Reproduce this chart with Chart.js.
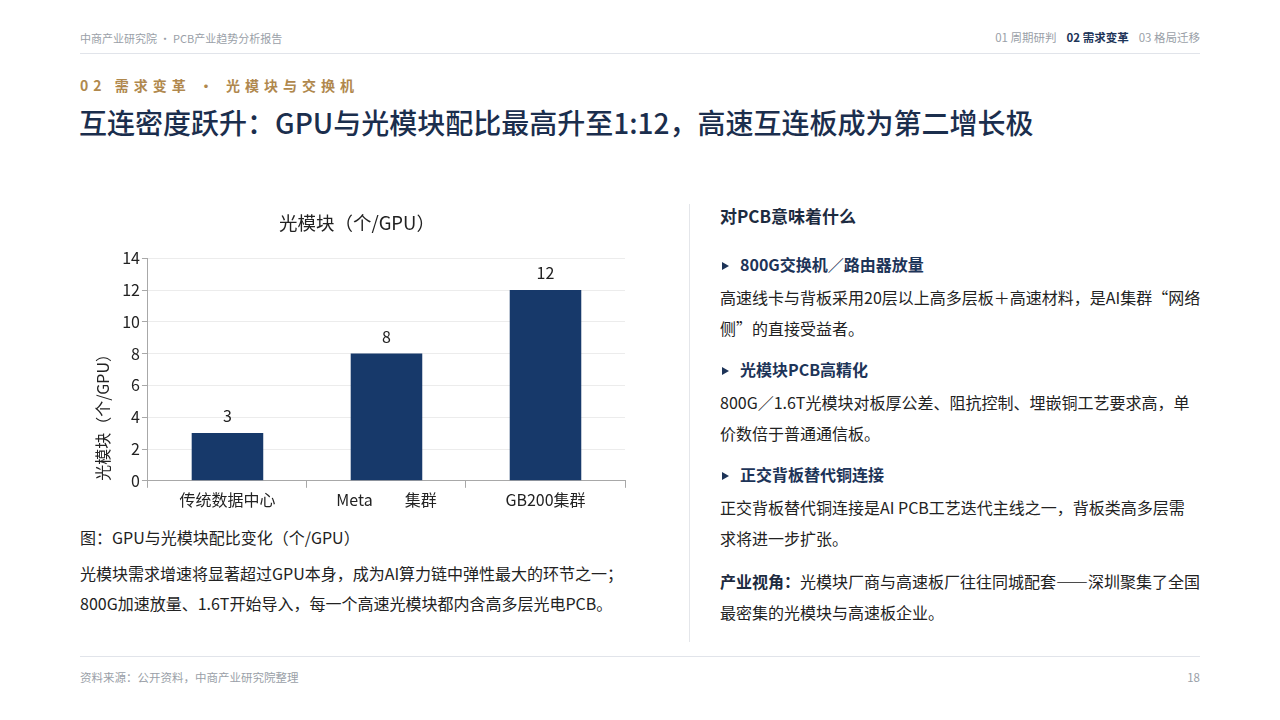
<!DOCTYPE html>
<html lang="zh">
<head>
<meta charset="utf-8">
<title>PCB产业趋势分析报告 18</title>
<script src="https://cdn.jsdelivr.net/npm/chart.js@4.4.1/dist/chart.umd.min.js"></script>
<style>
  html, body { margin: 0; padding: 0; background: #fff; }
  body { width: 1280px; height: 720px; position: relative; overflow: hidden;
         font-family: "Noto Sans CJK SC", "Noto Sans", sans-serif; color: #1f2a3a; }
  .abs { position: absolute; white-space: nowrap; }
  .top { left: 80px; top: 30px; font-size: 11px; color: #9a9fa8; }
  .nav { right: 80px; top: 29px; font-size: 11.5px; color: #9a9fa8; }
  .nav span { margin-left: 10px; }
  .nav b { color: #1d3458; font-weight: 700; margin-left: 10px; }
  .rule { position: absolute; left: 80px; width: 1120px; height: 1px; background: #e1e4ea; }
  .kicker { left: 80px; top: 75px; font-size: 14px; font-weight: 700; color: #b0884d; letter-spacing: 5px; }
  .title { left: 79px; top: 102px; font-size: 28px; font-weight: 500; color: #1b2e4d; }
  .vline { position: absolute; left: 689px; top: 204px; width: 1px; height: 438px; background: #e4e6ea; }
  .panel { left: 720px; top: 201px; white-space: nowrap; font-size: 16px; line-height: 31px; color: #222; }
  .panel h3 { margin: 0 0 18px 0; font-size: 17px; font-weight: 700; color: #1d2b40; line-height: 30px; }
  .panel .b { font-weight: 700; color: #1d3458; font-size: 16px; margin: 0 0 2px 0; line-height: 31px; }
  .panel .b i { display: inline-block; width: 0; height: 0; border-left: 7px solid #1d3458;
                border-top: 4px solid transparent; border-bottom: 4px solid transparent;
                margin: 0 11px 1px 2px; vertical-align: middle; }
  .panel p { margin: 0 0 10px 0; }
  .panel p.last { margin-top: 12px; }
  .panel p.last b { color: #1d2b40; }
  .cap { left: 80px; top: 525px; font-size: 16px; color: #222; }
  .txt { left: 80px; top: 558px; font-size: 16px; line-height: 30px; color: #222; }
  .foot { left: 80px; top: 669px; font-size: 11.5px; color: #9a9fa8; }
  .page { right: 80px; top: 669px; font-size: 11.5px; color: #9a9fa8; }
  #wrap { position: absolute; left: 80px; top: 200px; width: 560px; height: 320px; }
</style>
</head>
<body>
<div class="abs top">中商产业研究院 · PCB产业趋势分析报告</div>
<div class="abs nav"><span>01 周期研判</span><b>02 需求变革</b><span>03 格局迁移</span></div>
<div class="rule" style="top:53px"></div>
<div class="abs kicker">02 需求变革 · 光模块与交换机</div>
<div class="abs title">互连密度跃升：GPU与光模块配比最高升至1:12，高速互连板成为第二增长极</div>

<div id="wrap"><canvas id="chart"></canvas></div>

<div class="abs cap">图：GPU与光模块配比变化（个/GPU）</div>
<div class="abs txt">光模块需求增速将显著超过GPU本身，成为AI算力链中弹性最大的环节之一；<br>800G加速放量、1.6T开始导入，每一个高速光模块都内含高多层光电PCB。</div>

<div class="vline"></div>
<div class="abs panel">
  <h3>对PCB意味着什么</h3>
  <div class="b"><i></i>800G交换机／路由器放量</div>
  <p>高速线卡与背板采用20层以上高多层板＋高速材料，是AI集群“网络<br>侧”的直接受益者。</p>
  <div class="b"><i></i>光模块PCB高精化</div>
  <p>800G／1.6T光模块对板厚公差、阻抗控制、埋嵌铜工艺要求高，单<br>价数倍于普通通信板。</p>
  <div class="b"><i></i>正交背板替代铜连接</div>
  <p>正交背板替代铜连接是AI PCB工艺迭代主线之一，背板类高多层需<br>求将进一步扩张。</p>
  <p class="last"><b>产业视角：</b>光模块厂商与高速板厂往往同城配套——深圳聚集了全国<br>最密集的光模块与高速板企业。</p>
</div>

<div class="rule" style="top:656px"></div>
<div class="abs foot">资料来源：公开资料，中商产业研究院整理</div>
<div class="abs page">18</div>

<script>
// data
const categories = ['传统数据中心', 'Meta\u3000\u3000集群', 'GB200集群'];
const modulesPerGpu = [3, 8, 12];
const yTicks = [0, 2, 4, 6, 8, 10, 12, 14];

const barColor = '#17396a';
const chartFont = '"Noto Sans CJK SC", "Noto Sans", sans-serif';

// value labels above the bars
const valueLabels = {
  id: 'valueLabels',
  afterDatasetsDraw(chart) {
    const ctx = chart.ctx;
    const meta = chart.getDatasetMeta(0);
    ctx.save();
    ctx.fillStyle = '#222';
    ctx.font = '16px ' + chartFont;
    ctx.textAlign = 'center';
    ctx.textBaseline = 'bottom';
    meta.data.forEach((bar, i) => {
      ctx.fillText(String(modulesPerGpu[i]), bar.x, bar.y - 9);
    });
    ctx.restore();
  }
};

new Chart(document.getElementById('chart'), {
  type: 'bar',
  data: {
    labels: categories,
    datasets: [{
      label: '光模块（个/GPU）',
      data: modulesPerGpu,
      backgroundColor: barColor,
      borderWidth: 0,
      barPercentage: 0.45,
      categoryPercentage: 1
    }]
  },
  options: {
    responsive: true,
    maintainAspectRatio: false,
    animation: false,
    layout: { padding: { left: 9, right: 15, top: 4, bottom: 7 } },
    plugins: {
      legend: { display: false },
      tooltip: { enabled: false },
      title: {
        display: true,
        text: '光模块（个/GPU）',
        color: '#222',
        font: { family: chartFont, size: 18.5, weight: 'normal' },
        padding: { top: 8, bottom: 24 }
      }
    },
    scales: {
      x: {
        grid: { offset: true, drawOnChartArea: false, tickLength: 7, color: '#a8a8a8' },
        border: { color: '#a8a8a8' },
        ticks: { color: '#222', font: { family: chartFont, size: 16 }, padding: 3 }
      },
      y: {
        min: 0,
        max: 14,
        afterBuildTicks(axis) { axis.ticks = yTicks.map(v => ({ value: v })); },
        grid: { color: '#ececec', tickColor: '#a8a8a8', tickLength: 6 },
        border: { color: '#a8a8a8' },
        ticks: { color: '#222', font: { family: chartFont, size: 16 }, padding: 2 },
        title: {
          display: true,
          text: '光模块（个/GPU）',
          align: 'start',
          color: '#222',
          font: { family: chartFont, size: 16 },
          padding: { top: 4, bottom: 8 }
        }
      }
    }
  },
  plugins: [valueLabels]
});
</script>
</body>
</html>
